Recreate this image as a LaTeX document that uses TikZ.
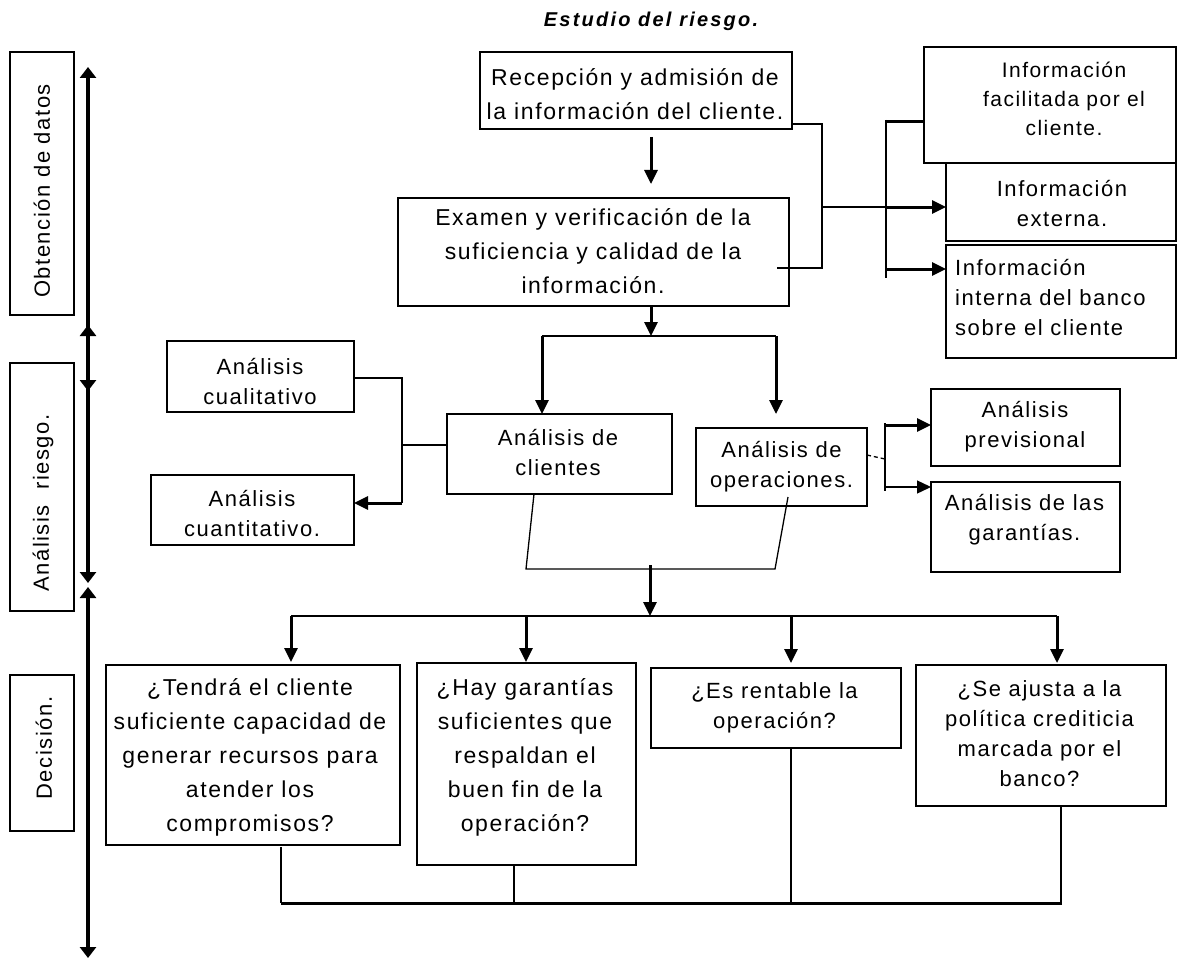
\documentclass[tikz,border=0pt]{standalone}
\usepackage{fontspec}
\setmainfont{Liberation Sans}[LetterSpace=7,Ligatures=NoCommon]
\newfontfamily\titlefont{Liberation Sans}[LetterSpace=11]
\usetikzlibrary{arrows.meta}
\newcommand\mkbox[5]{%
  \node[boxst, minimum width={(#3-#2)*1pt}, minimum height={(#5-#4)*1pt}] (#1) at ({(#2+#3)/2},{(#4+#5)/2}) {};}
\begin{document}
\begin{tikzpicture}[x=1pt,y=-1pt,
  boxst/.style={draw, line width=1.4pt, inner sep=0pt, outer sep=0pt},
  ta/.style={align=center, inner sep=0pt, font=\fontsize{22}{30}\selectfont},
  tb/.style={align=center, inner sep=0pt, font=\fontsize{23}{34}\selectfont},
  tc/.style={align=center, inner sep=0pt, font=\fontsize{21}{29}\selectfont},
  thinl/.style={line width=1.3pt},
  medl/.style={line width=2pt},
  thickl/.style={line width=3pt},
  arr/.style={-{Triangle[width=13pt,length=14pt]}},
  axisl/.style={line width=4pt, {Triangle[width=16pt,length=11pt]}-{Triangle[width=16pt,length=11pt]}},
]
\useasboundingbox (0,0) rectangle (1177,960);
\fill[white] (0,0) rectangle (1177,960);

% title
\node[inner sep=0pt, font=\titlefont\bfseries\itshape\fontsize{20}{22}\selectfont] (title) at (651,21) {Estudio del riesgo.};

% boxes
\mkbox{obt}{10}{74}{52}{315}
\mkbox{ana}{10}{74}{363}{611}
\mkbox{dec}{10}{74}{675}{831}
\mkbox{rec}{480}{792}{52}{129}
\mkbox{exa}{398}{789}{198}{306}
\mkbox{fac}{924}{1176}{47}{163}
\mkbox{ext}{946}{1176}{163}{241}
\mkbox{int}{946}{1176}{245}{358}
\mkbox{cual}{167}{354}{341}{412}
\mkbox{cuan}{151}{354}{475}{545}
\mkbox{cli}{447}{672}{414}{494}
\mkbox{ope}{696}{867}{428}{506}
\mkbox{prev}{931}{1120}{389}{466}
\mkbox{gar}{931}{1120}{482}{572}
\mkbox{qa}{106}{400}{665}{845}
\mkbox{qb}{417}{636}{663}{865}
\mkbox{qc}{651}{901}{668}{748}
\mkbox{qd}{916}{1166}{665}{806}

% texts
\node[ta, rotate=90] (obt-t) at (42,191) {Obtención de datos};
\node[ta, rotate=90] (ana-t) at (43,503) {Análisis\ \ riesgo.};
\node[ta, rotate=90] (dec-t) at (44,748) {Decisión.};
\node[tb] (rec-t) at (635,94) {Recepción y admisión de\\la información del cliente.};
\node[tb] (exa-t) at (593,251) {Examen y verificación de la\\suficiencia y calidad de la\\información.};
\node[tc] (fac-t) at (1064,99) {Información\\facilitada por el\\cliente.};
\node[ta] (ext-t) at (1062,204) {Información\\externa.};
\node[ta, align=left, anchor=west] (int-t) at (955,298) {Información\\interna del banco\\sobre el cliente};
\node[ta] (cual-t) at (260,382) {Análisis\\cualitativo};
\node[ta] (cuan-t) at (252,514) {Análisis\\cuantitativo.};
\node[ta] (cli-t) at (558,453) {Análisis de\\clientes};
\node[ta] (ope-t) at (781.5,467) {Análisis de\\operaciones.};
\node[ta] (prev-t) at (1025,427) {Análisis\\previsional};
\node[ta] (gar-t) at (1024.5,520) {Análisis de las\\garantías.};
\node[tb] (qa-t) at (250,757) {¿Tendrá el cliente\\suficiente capacidad de\\generar recursos para\\atender los\\compromisos?};
\node[tb] (qb-t) at (525,757) {¿Hay garantías\\suficientes que\\respaldan el\\buen fin de la\\operación?};
\node[ta] (qc-t) at (774.5,708) {¿Es rentable la\\operación?};
\node[ta] (qd-t) at (1039.5,734) {¿Se ajusta a la\\política crediticia\\marcada por el\\banco?};

% axis
\coordinate (ax1) at (88,67);
\coordinate (ax2) at (88,391);
\coordinate (ax3) at (88,325);
\coordinate (ax4) at (88,583);
\coordinate (ax5) at (88,587);
\coordinate (ax6) at (88,958);
\draw[axisl] (ax1) -- (ax2);
\draw[axisl] (ax3) -- (ax4);
\draw[axisl] (ax5) -- (ax6);

% top: reception -> examination
\coordinate (a1s) at (651,137);
\coordinate (a1e) at (651,184);
\draw[thickl,arr] (a1s) -- (a1e);

% side bracket to information sources
\coordinate (j1) at (822,124);
\coordinate (j2) at (822,268);
\coordinate (j3) at (777,268);
\coordinate (j4) at (822,207);
\coordinate (v1) at (886,120);
\coordinate (v2) at (886,278);
\coordinate (vf) at (886,122);
\coordinate (ve) at (886,207);
\coordinate (vi) at (886,269);
\draw[thinl] (rec.east |- j1) -- (j1) -- (j2) -- (j3);
\draw[thinl] (j4) -- (ve);
\draw[medl] (v1) -- (v2);
\draw[thickl] (vf) -- (fac.west |- vf);
\draw[thickl,arr] (ve) -- (ext.west |- ve);
\draw[thickl,arr] (vi) -- (int.west |- vi);

% examination -> split
\coordinate (s0) at (651,336);
\coordinate (sl) at (542,336);
\coordinate (sr) at (776,336);
\coordinate (srt) at (776,414);
\draw[thickl,arr] (exa.south -| s0) -- (s0);
\draw[medl] (sl) -- (sr);
\draw[thickl,arr] (sl) -- (cli.north -| sl);
\draw[thickl,arr] (sr) -- (srt);

% clients analysis branches
\coordinate (c1) at (402,378);
\coordinate (c2) at (402,503);
\coordinate (c3) at (402,445);
\draw[thinl] (cual.east |- c1) -- (c1) -- (c2);
\draw[thickl,arr] (c2) -- (cuan.east |- c2);
\draw[thinl] (c3) -- (cli.west |- c3);

% operations analysis branches
\coordinate (o1) at (867,455);
\coordinate (o2) at (885,459);
\coordinate (o3) at (885,423);
\coordinate (o4) at (885,491);
\coordinate (o5) at (885,425);
\coordinate (o6) at (885,487);
\draw[thinl, dash pattern=on 4pt off 3pt] (o1) -- (o2);
\draw[thinl] (o3) -- (o4);
\draw[thickl,arr] (o5) -- (prev.west |- o5);
\draw[thinl,arr] (o6) -- (gar.west |- o6);

% merge of analyses
\coordinate (m1) at (534,494);
\coordinate (m2) at (526,569);
\coordinate (m3) at (775,569);
\coordinate (m4) at (788,497);
\draw[thinl] (m1) -- (m2) -- (m3) -- (m4);
\coordinate (d0s) at (650,565);
\coordinate (d0e) at (650,616);
\draw[thickl,arr] (d0s) -- (d0e);

% decision distribution
\coordinate (dl) at (291,616);
\coordinate (dr) at (1057,616);
\coordinate (db) at (526,616);
\coordinate (dc) at (791,616);
\draw[medl] (dl) -- (dr);
\draw[thickl,arr] (dl) -- (291,662);
\draw[thickl,arr] (db) -- (526,662);
\draw[thickl,arr] (dc) -- (791,663);
\draw[thickl,arr] (dr) -- (1057,663);

% bottom collector
\coordinate (b1) at (281,903);
\coordinate (b2) at (514,903);
\coordinate (b3) at (791,903);
\coordinate (b4) at (1061,903);
\coordinate (b1t) at (281,847);
\draw[thinl] (b1t) -- (b1);
\draw[medl] (qb.south -| b2) -- (b2);
\draw[medl] (qc.south -| b3) -- (b3);
\draw[medl] (qd.south -| b4) -- (b4);
\draw[thickl] (b1) -- (1062,903);
\end{tikzpicture}
\end{document}
